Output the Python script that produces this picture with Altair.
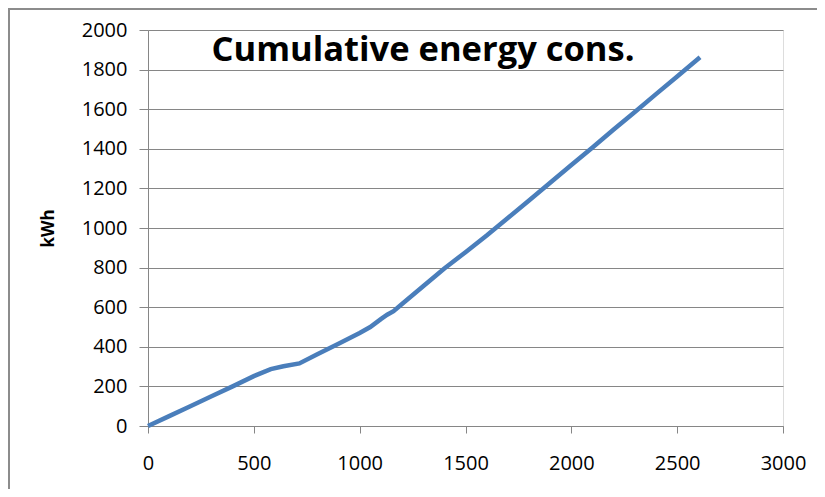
import altair as alt
import pandas as pd

x_vals = [0, 100, 200, 300, 400, 500, 580, 640, 715, 800, 900, 1000, 1050, 1100, 1130, 1160,
          1200, 1300, 1400, 1500, 1600, 1700, 1800, 1900, 2000, 2100, 2200, 2300, 2400, 2500, 2608]
kwh = [0, 50, 100, 150, 200, 252, 287, 302, 316, 362, 415, 470, 500, 540, 562, 580,
       616, 706, 795, 878, 962, 1050, 1139, 1229, 1318, 1407, 1497, 1586, 1676, 1765, 1862]
title_text = "Cumulative energy cons."
y_title = "kWh"
x_ticks = [0, 500, 1000, 1500, 2000, 2500, 3000]
y_ticks = [0, 200, 400, 600, 800, 1000, 1200, 1400, 1600, 1800, 2000]

df = pd.DataFrame({"x": x_vals, "kwh": kwh})

W, H = 635, 396
FONT = "Open Sans"
GRAY = "#868686"

line = alt.Chart(df).mark_line(color="#4A7EBB", strokeWidth=4.5).encode(
    x=alt.X("x:Q", scale=alt.Scale(domain=[0, 3000], nice=False),
            axis=alt.Axis(values=x_ticks, format="d", title=None, grid=False, tickSize=7,
                          labelPadding=20, labelFontSize=20, labelFont=FONT,
                          labelColor="#000000", domainColor=GRAY, tickColor=GRAY,
                          labelFlush=False)),
    y=alt.Y("kwh:Q", scale=alt.Scale(domain=[0, 2000], nice=False),
            axis=alt.Axis(values=y_ticks, format="d", title=y_title, grid=True, gridColor=GRAY,
                          gridWidth=1.2, tickSize=9, labelPadding=12, labelFontSize=20,
                          labelFont=FONT, labelColor="#000000", domainColor=GRAY,
                          tickColor=GRAY, titleFont=FONT, titleFontSize=17,
                          titleFontWeight="bold", titleColor="#000000", titlePadding=24)),
)

border = alt.Chart(pd.DataFrame({"a": [0]})).mark_rect(
    fill="white", fillOpacity=0, stroke="#8c8c8c", strokeWidth=2
).encode(x=alt.value(-139), x2=alt.value(720), y=alt.value(-21), y2=alt.value(520))

title = alt.Chart(pd.DataFrame({"t": [title_text]})).mark_text(
    font=FONT, fontSize=34.5, fontWeight="bold", color="#000000",
    align="center", baseline="alphabetic"
).encode(text="t:N", x=alt.value(275), y=alt.value(31))

chart = alt.layer(border, line, title).properties(
    width=W, height=H,
    autosize=alt.AutoSizeParams(type="none"),
    padding={"left": 140, "top": 22, "right": 34, "bottom": 63},
).configure_view(stroke=None).configure(background="white")

chart.save("out.html", embed_options={"renderer": "svg", "actions": False})
